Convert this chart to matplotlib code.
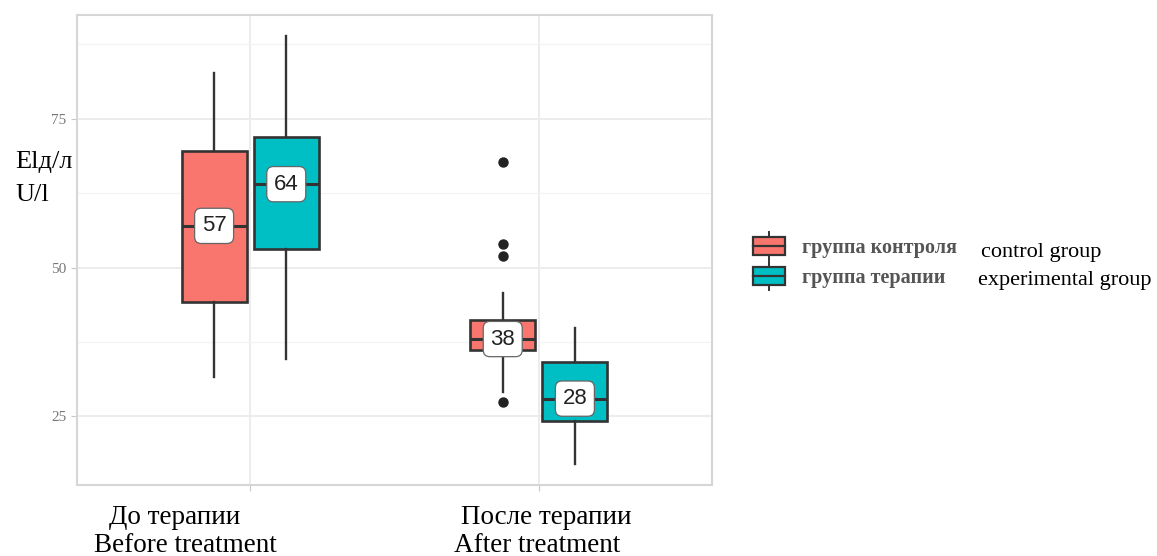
import matplotlib
matplotlib.use('Agg')
import matplotlib.pyplot as plt
from matplotlib.legend_handler import HandlerBase
from matplotlib.patches import Rectangle, Patch
from matplotlib.lines import Line2D

# Box statistics per period (before / after treatment)
periods = [1, 2]
period_ru = ['До терапии', 'После терапии']
period_en = ['Before treatment', 'After treatment']

ctrl_q1 = [44.3, 36.1]
ctrl_med = [57, 38]
ctrl_q3 = [69.5, 41.2]
ctrl_lo = [31.6, 29.1]
ctrl_hi = [82.7, 45.8]
ctrl_fliers = [[], [67.8, 54.0, 52.0, 27.5]]

exp_q1 = [53.1, 24.2]
exp_med = [64, 28]
exp_q3 = [72.0, 34.1]
exp_lo = [34.7, 17.1]
exp_hi = [88.8, 39.9]
exp_fliers = [[], []]

group_ru = ['группа контроля', 'группа терапии']
group_en = ['control group', 'experimental group']
colors = ['#F8766D', '#00BFC4']

plt.rcParams['font.family'] = ['Liberation Serif', 'DejaVu Serif']

W, H = 1157, 556
fig = plt.figure(figsize=(W / 100, H / 100), dpi=100)
ax = fig.add_axes([77 / W, 1 - 485 / H, (712 - 77) / W, (485 - 15) / H])

dodge = 0.125
box_w = 0.225
line_c = '#333333'


def make_stats(q1, med, q3, lo, hi, fliers):
    return [dict(q1=q1[i], med=med[i], q3=q3[i], whislo=lo[i], whishi=hi[i],
                 fliers=fliers[i]) for i in range(len(med))]


series = [
    (make_stats(ctrl_q1, ctrl_med, ctrl_q3, ctrl_lo, ctrl_hi, ctrl_fliers), -dodge, colors[0], ctrl_med),
    (make_stats(exp_q1, exp_med, exp_q3, exp_lo, exp_hi, exp_fliers), dodge, colors[1], exp_med),
]

for stats, off, col, meds in series:
    pos = [p + off for p in periods]
    ax.bxp(stats, positions=pos, widths=box_w, patch_artist=True, showcaps=False,
           boxprops=dict(facecolor=col, edgecolor=line_c, linewidth=1.9),
           medianprops=dict(color=line_c, linewidth=2.2),
           whiskerprops=dict(color=line_c, linewidth=1.7),
           flierprops=dict(marker='o', markerfacecolor='#222222', markeredgecolor='#222222',
                           markersize=6.5))
    for x, m in zip(pos, meds):
        ax.text(x, m, f'{m:g}', ha='center', va='center', fontsize=16, color='#222222',
                family='Liberation Sans', zorder=5,
                bbox=dict(boxstyle='round,pad=0.32,rounding_size=0.3', fc='white',
                          ec='#666666', lw=0.9))

ax.set_xlim(0.4, 2.6)
ax.set_ylim(13.5, 92.4)
ax.set_yticks([25, 50, 75])
ax.set_yticks([37.5, 62.5, 87.5], minor=True)
ax.set_xticks(periods)
ax.set_xticklabels(['', ''])
ax.grid(which='major', color='#EBEBEB', lw=1.3)
ax.grid(which='minor', axis='y', color='#F3F3F3', lw=0.9)
ax.set_axisbelow(True)
for s in ax.spines.values():
    s.set_color('#D6D6D6')
    s.set_linewidth(1.5)
ax.tick_params(which='major', color='#C8C8C8', length=4, labelsize=11, labelcolor='#777777')
ax.tick_params(which='minor', length=0)

# axis titles
fig.text(15 / W, 1 - 162 / H, 'Elд/л', va='center', fontsize=19)
fig.text(15 / W, 1 - 195 / H, 'U/l', va='center', fontsize=19)
fig.text(175 / W, 1 - 518 / H, period_ru[0], ha='center', va='center', fontsize=19.5)
fig.text(185 / W, 1 - 545 / H, period_en[0], ha='center', va='center', fontsize=19.5)
fig.text(546 / W, 1 - 518 / H, period_ru[1], ha='center', va='center', fontsize=19.5)
fig.text(537 / W, 1 - 545 / H, period_en[1], ha='center', va='center', fontsize=19.5)


class BoxKey(HandlerBase):
    def create_artists(self, legend, orig_handle, xdescent, ydescent, width, height,
                       fontsize, trans):
        x0, y0 = -xdescent, -ydescent
        cx = x0 + width / 2
        stub = Line2D([cx, cx], [y0 - 0.3 * height, y0 + 1.3 * height], color=line_c,
                      lw=1.4, transform=trans)
        box = Rectangle((x0, y0), width, height, facecolor=orig_handle.get_facecolor(),
                        edgecolor=line_c, lw=1.6, transform=trans)
        mid = Line2D([x0, x0 + width], [y0 + height / 2] * 2, color=line_c, lw=1.6,
                     transform=trans)
        return [stub, box, mid]


handles = [Patch(facecolor=c) for c in colors]
fig.legend(handles, group_ru, handler_map={Patch: BoxKey()}, loc='upper left',
           bbox_to_anchor=(753 / W, 1 - 237 / H), frameon=False,
           prop=dict(family='Liberation Serif', weight='bold', size=14.5),
           labelcolor='#555555', handlelength=1.6, handleheight=1.0, handletextpad=0.85,
           labelspacing=0.45, borderpad=0, borderaxespad=0)

fig.text(981 / W, 1 - 252 / H, group_en[0], va='center', fontsize=16)
fig.text(978 / W, 1 - 280 / H, group_en[1], va='center', fontsize=16)

fig.savefig('out.png', dpi=100)
